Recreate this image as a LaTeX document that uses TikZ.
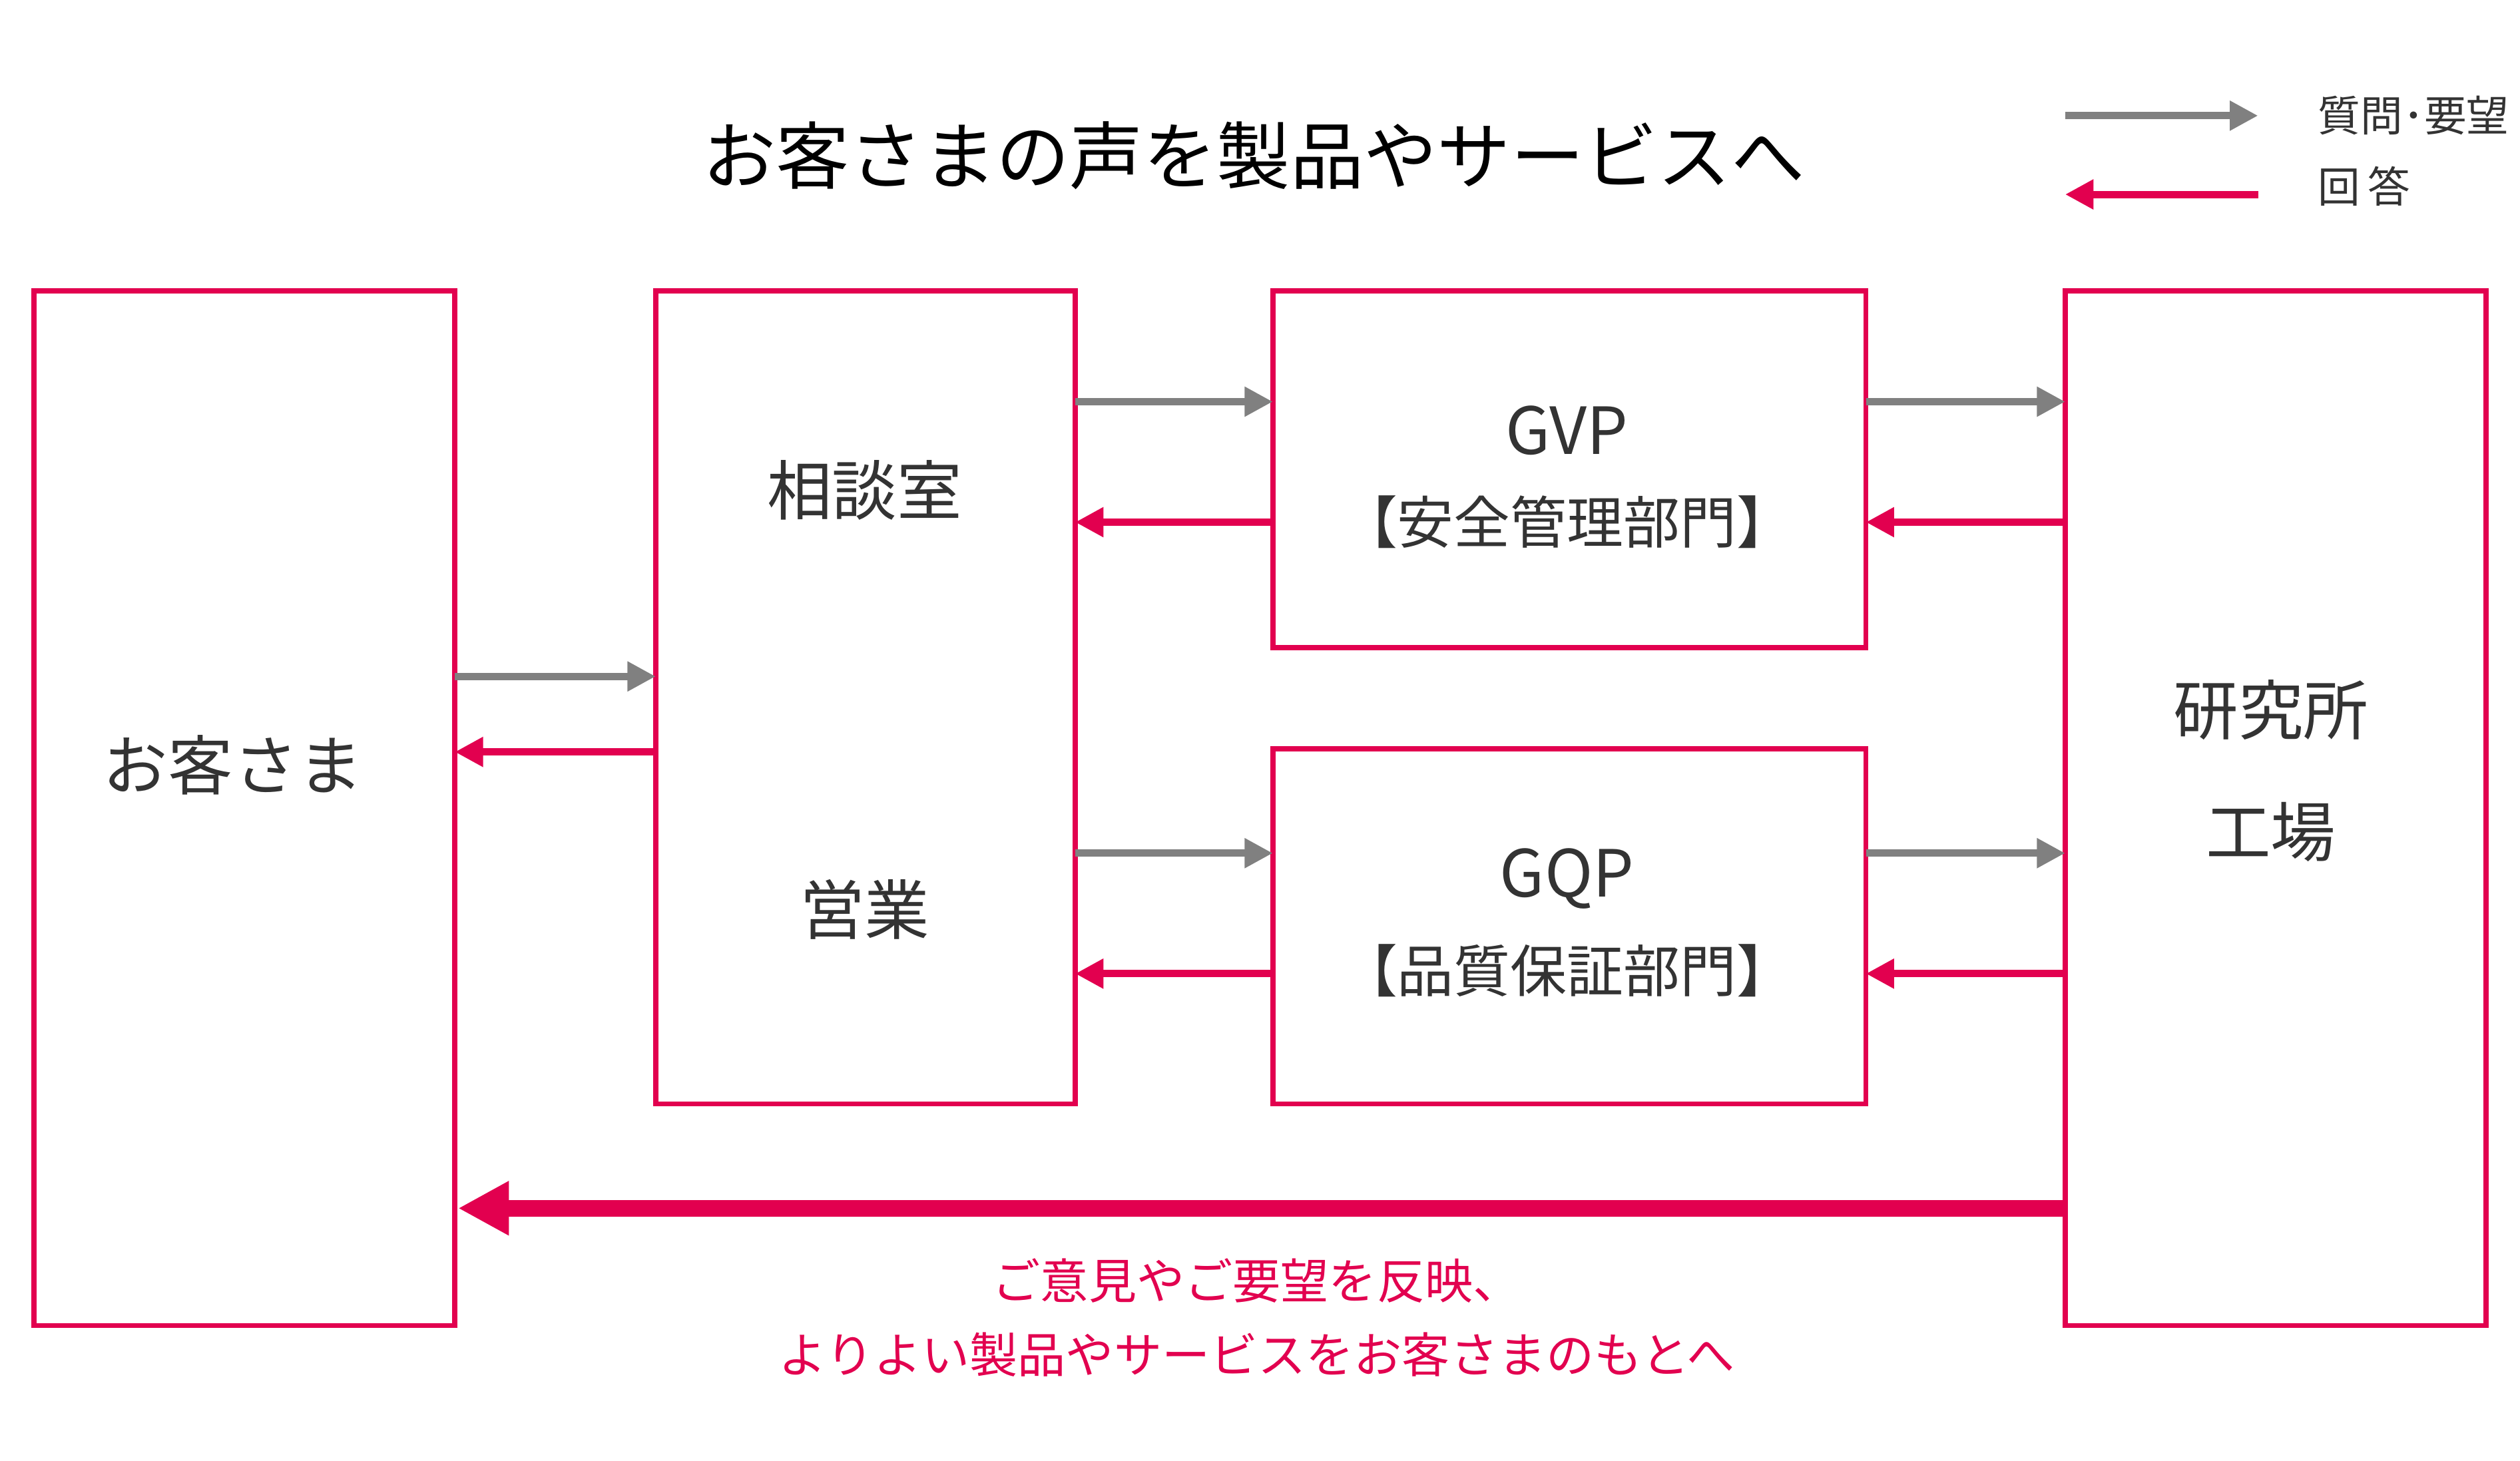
\documentclass[tikz,border=0pt]{standalone}
\usepackage{fontspec}
\setmainfont{Noto Sans CJK JP}
\usetikzlibrary{arrows.meta}
\definecolor{rd}{HTML}{E2004F}
\definecolor{gr}{HTML}{808080}
\definecolor{tx}{HTML}{333333}
\begin{document}
\begin{tikzpicture}[x=0.01cm,y=-0.01cm,
 box/.style={draw=rd,line width=0.9pt},
 ga/.style={draw=gr,line width=1.3pt,-{Triangle[length=5pt,width=5pt]}},
 ra/.style={draw=rd,line width=1.3pt,-{Triangle[length=5pt,width=5pt]}},
 lbl/.style={text=tx,font=\fontsize{11.5pt}{14pt}\selectfont,align=center}]
\useasboundingbox (0,0) rectangle (1568,909);
\draw[box] (21,181) rectangle (283,825);
\draw[box] (408,181) rectangle (669,687);
\draw[box] (792,181) rectangle (1161,403);
\draw[box] (792,466) rectangle (1161,687);
\draw[box] (1285,181) rectangle (1547,825);
\coordinate (a1) at (283,421); \coordinate (a2) at (408,421);
\coordinate (b1) at (408,468); \coordinate (b2) at (283,468);
\draw[ga] (a1)--(a2); \draw[ra] (b1)--(b2);
\draw[ga] (669,250)--(792,250); \draw[ra] (792,325)--(669,325);
\draw[ga] (669,531)--(792,531); \draw[ra] (792,606)--(669,606);
\draw[ga] (1161,250)--(1285,250); \draw[ra] (1285,325)--(1161,325);
\draw[ga] (1161,531)--(1285,531); \draw[ra] (1285,606)--(1161,606);
\draw[draw=rd,line width=3pt,-{Triangle[length=9pt,width=9pt]}] (1285,752)--(285,752);
\draw[ga] (1285,72)--(1405,72); \draw[ra] (1405,121)--(1285,121);
\node[anchor=west,text=tx,font=\fontsize{7.5pt}{9pt}\selectfont] (l1) at (1430,72) {質問･要望};
\node[anchor=west,text=tx,font=\fontsize{7.5pt}{9pt}\selectfont] (l2) at (1430,116) {回\,答};
\node[text=black,font=\fontsize{13pt}{15pt}\selectfont] (t) at (780,97) {お客さまの声を製品やサービスへ};
\node[lbl] (c) at (145,476) {お客さま};
\node[lbl] (s) at (538,305) {相談室};
\node[lbl] (e) at (538,566) {営業};
\node[lbl] (g1) at (975,268) {GVP};
\node[lbl,font=\fontsize{10pt}{12pt}\selectfont] (g1b) at (975,325) {【安全管理部門】};
\node[lbl] (g2) at (975,547) {GQP};
\node[lbl,font=\fontsize{10pt}{12pt}\selectfont] (g2b) at (975,604) {【品質保証部門】};
\node[lbl] (r1) at (1413,442) {研究所};
\node[lbl] (r2) at (1413,518) {工場};
\node[text=rd,font=\fontsize{8.5pt}{13pt}\selectfont,align=center] (m) at (782,820) {ご意見やご要望を反映、\\よりよい製品やサービスをお客さまのもとへ};
\end{tikzpicture}
\end{document}
